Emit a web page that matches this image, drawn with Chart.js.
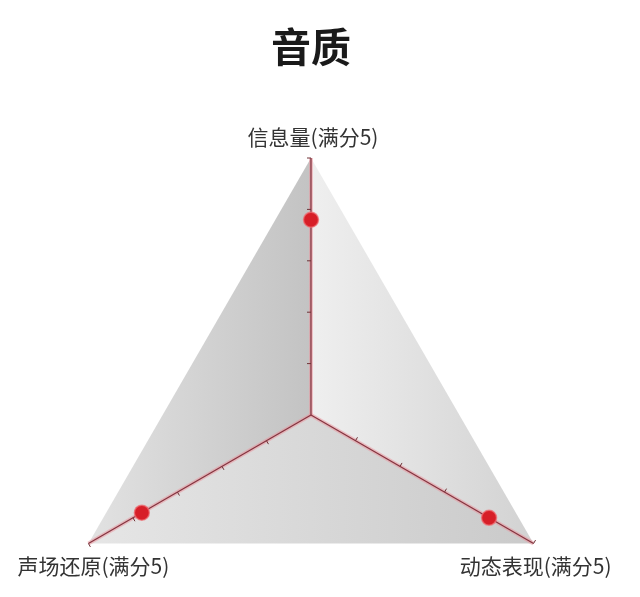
<!DOCTYPE html>
<html>
<head>
<meta charset="utf-8">
<script src="https://cdn.jsdelivr.net/npm/chart.js@4.4.0/dist/chart.umd.min.js"></script>
<style>
  html, body { margin: 0; background: #fff; }
  canvas { display: block; }
</style>
</head>
<body>
<canvas id="soundChart" width="640" height="597"></canvas>
<script>
// chart data
const axisLabels = ['信息量(满分5)', '动态表现(满分5)', '声场还原(满分5)'];
const scores = [3.8, 4.0, 3.8];
const scaleMax = 5;
const tickValues = [1, 2, 3, 4, 5];
const chartTitle = '音质';

const cjkFont = '"Noto Sans CJK SC", "Noto Sans", sans-serif';

// Draw the three shaded faces of the "pyramid" behind the axes
const pyramidFaces = {
    id: 'pyramidFaces',
    beforeDraw(chart) {
        const r = chart.scales.r;
        const ctx = chart.ctx;
        const c = { x: r.xCenter, y: r.yCenter };
        const v = axisLabels.map((_, i) => r.getPointPositionForValue(i, scaleMax));

        const faces = [
            { pts: [v[0], c, v[2]], x0: v[2].x, x1: c.x, from: '#e2e2e2', to: '#c3c3c3' },
            { pts: [v[0], c, v[1]], x0: c.x, x1: v[1].x, from: '#efefef', to: '#d2d2d2' },
            { pts: [v[2], c, v[1]], x0: v[2].x, x1: v[1].x, from: '#e6e6e6', to: '#cacaca' }
        ];

        ctx.save();
        faces.forEach(f => {
            const g = ctx.createLinearGradient(f.x0, 0, f.x1, 0);
            g.addColorStop(0, f.from);
            g.addColorStop(1, f.to);
            ctx.beginPath();
            ctx.moveTo(f.pts[0].x, f.pts[0].y);
            ctx.lineTo(f.pts[1].x, f.pts[1].y);
            ctx.lineTo(f.pts[2].x, f.pts[2].y);
            ctx.closePath();
            ctx.fillStyle = g;
            ctx.fill();
        });

        // soft pink halo under the axis lines
        ctx.strokeStyle = 'rgba(235, 145, 155, 0.5)';
        ctx.lineWidth = 4;
        v.forEach(p => {
            ctx.beginPath();
            ctx.moveTo(c.x, c.y);
            ctx.lineTo(p.x, p.y);
            ctx.stroke();
        });
        ctx.restore();
    },
    beforeDatasetsDraw(chart) {
        // small tick marks along each axis
        const r = chart.scales.r;
        const ctx = chart.ctx;
        const c = { x: r.xCenter, y: r.yCenter };
        ctx.save();
        ctx.strokeStyle = '#6e3438';
        ctx.lineWidth = 1;
        axisLabels.forEach((_, i) => {
            tickValues.forEach(t => {
                const p = r.getPointPositionForValue(i, t);
                const len = Math.hypot(p.x - c.x, p.y - c.y);
                const dx = (p.x - c.x) / len;
                const dy = (p.y - c.y) / len;
                ctx.beginPath();
                ctx.moveTo(p.x, p.y);
                ctx.lineTo(p.x + dy * 4, p.y - dx * 4);
                ctx.stroke();
            });
        });
        ctx.restore();
    },
    afterDraw(chart) {
        // axis names centred around each outer corner
        const r = chart.scales.r;
        const ctx = chart.ctx;
        ctx.save();
        ctx.font = '21px ' + cjkFont;
        ctx.fillStyle = '#333333';
        ctx.textAlign = 'center';
        ctx.textBaseline = 'middle';
        axisLabels.forEach((label, i) => {
            const p = r.getPointPositionForValue(i, scaleMax);
            if (i === 0) {
                ctx.fillText(label, p.x + 2, p.y - 21);
            } else {
                ctx.fillText(label, p.x + (i === 2 ? 5 : 2), p.y + 23);
            }
        });
        ctx.restore();
    }
};

const ctx = document.getElementById('soundChart').getContext('2d');
const soundChart = new Chart(ctx, {
    type: 'radar',
    data: {
        labels: axisLabels,
        datasets: [{
            label: chartTitle,
            data: scores,
            fill: false,
            borderWidth: 0,
            borderColor: 'rgba(0,0,0,0)',
            backgroundColor: 'rgba(0,0,0,0)',
            pointRadius: 7.5,
            pointBackgroundColor: '#d71f28',
            pointBorderColor: 'rgba(240, 110, 115, 0.7)',
            pointBorderWidth: 1.5
        }]
    },
    options: {
        responsive: false,
        animation: false,
        events: [],
        layout: {
            padding: { top: 0, left: 54, right: 72, bottom: 0 }
        },
        plugins: {
            legend: { display: false },
            tooltip: { enabled: false },
            title: {
                display: true,
                text: chartTitle,
                color: '#1a1a1a',
                font: { family: cjkFont, size: 40, weight: 'bold' },
                padding: { top: 23, bottom: 87 }
            }
        },
        scales: {
            r: {
                min: 0,
                max: scaleMax,
                ticks: { display: false, stepSize: 1 },
                grid: { display: false },
                pointLabels: { display: false },
                angleLines: {
                    display: true,
                    color: '#86343f',
                    lineWidth: 1.3
                },
                // the triangle only reaches half its radius below the centre,
                // so size it by the width and hang the centre from the top
                afterFit(scale) {
                    scale.drawingArea = scale.width / 2;
                    scale.yCenter = Math.floor(scale.top + scale.drawingArea);
                }
            }
        }
    },
    plugins: [pyramidFaces]
});
</script>
</body>
</html>
